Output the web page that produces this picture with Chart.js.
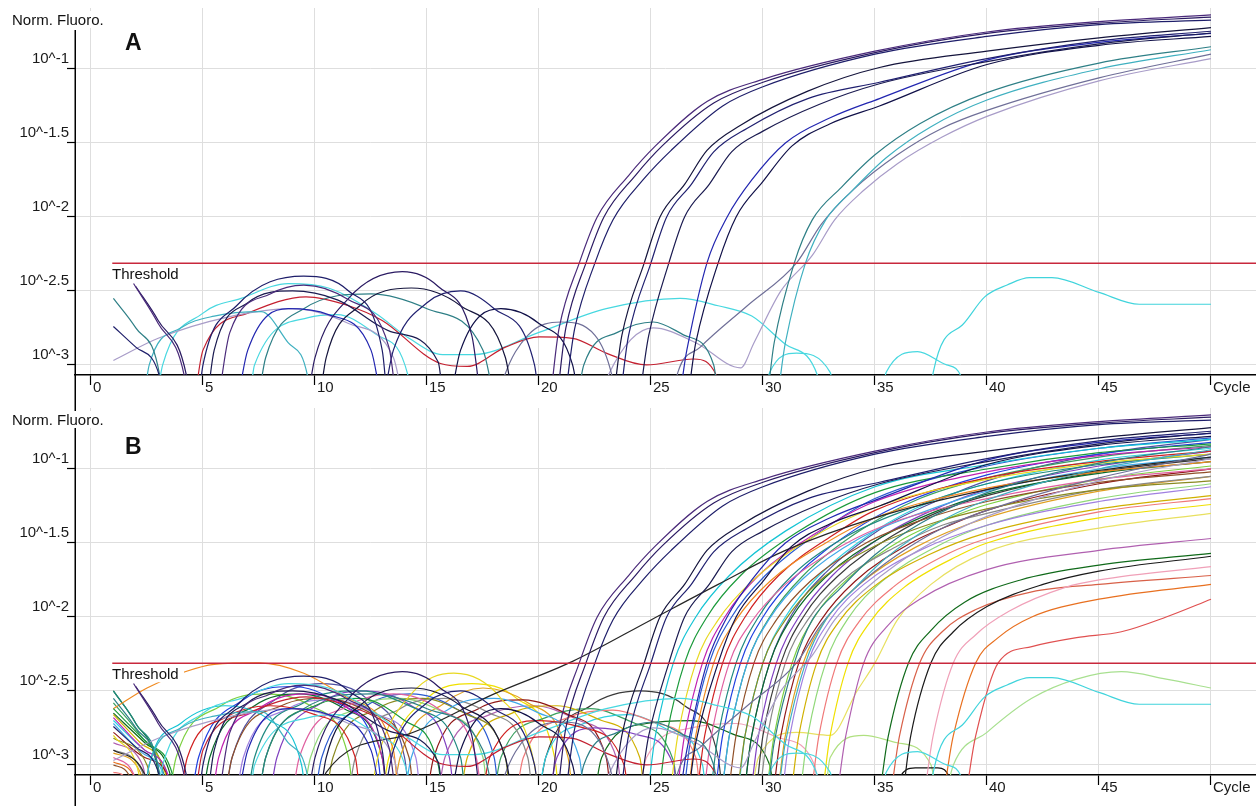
<!DOCTYPE html>
<html><head><meta charset="utf-8">
<script src="https://cdn.jsdelivr.net/npm/chart.js@4.4.1/dist/chart.umd.min.js"></script>
<style>
html,body{margin:0;padding:0;background:#fff;}
#wrap{position:relative;width:1256px;height:806px;overflow:hidden;background:#fff;}
canvas{position:absolute;left:0;}
</style></head><body>
<div id="wrap">
<canvas id="cA" width="1256" height="400" style="top:0px"></canvas>
<canvas id="cB" width="1256" height="406" style="top:400px"></canvas>
</div>
<script>
// ---- axis ticks ----
const xTicks = [0,5,10,15,20,25,30,35,40,45,50];
const xTickLabels = ['0','5','10','15','20','25','30','35','40','45','Cycle'];
const yTickExps = [-1,-1.5,-2,-2.5,-3];
const thresholdLog = -2.313;
const thresholdStartCycle = 0.95;

// ---- panel A curves: [cycle, log10(Norm. Fluoro.)] ----
const curvesA = [
 [[1.9,-2.45],[3,-2.72],[4.2,-3.1],[4.6,-3.6],[5.2,-3.6],[6.2,-2.78],[8,-2.52],[9.5,-2.46],[11.5,-2.56],[13.3,-2.88],[14,-3.6],[20.1,-3.6],[20.9,-2.75],[21.8,-2.31],[22.6,-2.0],[24,-1.72],[25.2,-1.52],[27.5,-1.22],[30,-1.07],[35,-0.88],[40,-0.75],[45,-0.68],[50,-0.635]],
 [[2,-2.47],[3,-2.7],[4.3,-3.1],[4.7,-3.6],[9.2,-3.6],[10,-2.95],[11.5,-2.55],[13.9,-2.37],[15.5,-2.47],[17,-2.8],[17.8,-3.6],[20.4,-3.6],[21.2,-2.75],[22.1,-2.31],[22.9,-2.0],[24.3,-1.72],[25.5,-1.52],[27.8,-1.23],[30,-1.09],[35,-0.89],[40,-0.76],[45,-0.69],[50,-0.65]],
 [[1,-2.74],[2,-2.88],[3.1,-3.1],[3.5,-3.6],[4.5,-3.6],[5,-3.0],[6.5,-2.6],[9.5,-2.4],[11.5,-2.5],[13,-2.9],[13.5,-3.6],[20.7,-3.6],[21.6,-2.75],[22.5,-2.31],[23.3,-2.02],[24.7,-1.74],[25.9,-1.55],[28.2,-1.25],[30,-1.12],[35,-0.9],[40,-0.78],[45,-0.7],[50,-0.67]],
 [[1,-3.6],[9.8,-3.6],[10.5,-2.95],[12,-2.6],[14.3,-2.48],[16.5,-2.6],[18.5,-2.95],[19.3,-3.6],[22.9,-3.6],[23.7,-2.8],[24.7,-2.31],[25.4,-2.0],[26.5,-1.78],[27.5,-1.55],[29,-1.38],[32,-1.15],[35.2,-0.99],[40,-0.88],[45,-0.79],[50,-0.72]],
 [[1,-3.6],[12.5,-3.6],[13.5,-2.9],[15,-2.58],[16.5,-2.5],[18,-2.62],[19.8,-3.0],[20.3,-3.6],[23.2,-3.6],[24,-2.8],[25,-2.31],[25.7,-2.0],[26.8,-1.78],[27.8,-1.56],[29.3,-1.4],[32,-1.2],[35.2,-1.09],[40,-0.93],[45,-0.81],[50,-0.745]],
 [[1,-3.6],[4.8,-3.6],[5.5,-2.9],[7,-2.58],[9,-2.5],[11,-2.56],[13.5,-2.78],[15.5,-2.98],[16,-3.6],[24,-3.6],[24.9,-2.8],[25.8,-2.31],[26.5,-2.0],[27.6,-1.78],[28.6,-1.56],[30,-1.42],[32.5,-1.24],[35.2,-1.1],[40,-0.95],[45,-0.83],[50,-0.757]],
 [[1,-3.6],[6,-3.6],[7,-2.9],[8.8,-2.62],[10.6,-2.66],[12.5,-2.9],[13.5,-3.6],[25.8,-3.6],[26.6,-2.9],[27.5,-2.31],[28.4,-2.0],[29.5,-1.75],[31,-1.5],[33,-1.33],[35.2,-1.2],[40,-0.94],[45,-0.82],[50,-0.76]],
 [[1,-3.6],[15.5,-3.6],[16.5,-2.9],[18.3,-2.62],[20,-2.72],[21.5,-3.0],[22.2,-3.6],[26.3,-3.5],[27,-2.85],[28,-2.31],[28.8,-2.0],[30,-1.76],[31.3,-1.52],[33,-1.37],[35.2,-1.25],[40,-0.97],[45,-0.84],[50,-0.78]],
 [[1,-2.55],[2,-2.75],[3.1,-3.1],[3.4,-3.6],[7,-3.6],[7.8,-2.95],[9.5,-2.62],[12.5,-2.52],[15,-2.62],[17.5,-2.9],[18.6,-3.6],[21.3,-3.6],[22,-3.0],[23.5,-2.78],[25.1,-2.71],[26.5,-2.8],[27.8,-3.0],[28.3,-3.6],[29.8,-3.6],[30.5,-2.85],[31.4,-2.31],[32.2,-2.02],[33.5,-1.8],[35,-1.58],[37,-1.37],[40,-1.16],[45,-0.96],[50,-0.85]],
 [[1,-3.6],[2,-3.6],[2.6,-3.0],[4,-2.75],[5.5,-2.67],[7.6,-2.64],[8.8,-2.85],[9.7,-3.1],[10,-3.6],[30.2,-3.6],[31,-2.85],[31.9,-2.31],[32.8,-2.02],[34,-1.82],[35.5,-1.6],[37.5,-1.39],[40,-1.21],[45,-1.0],[50,-0.87]],
 [[1,-3.6],[17.6,-3.6],[18.4,-3.1],[19.5,-2.8],[21,-2.71],[22.5,-2.8],[23.3,-3.1],[23.8,-3.6],[25.5,-3.6],[26.2,-3.05],[27.2,-2.88],[29.3,-2.6],[31.5,-2.31],[32.6,-2.05],[34,-1.82],[36,-1.58],[38,-1.4],[40,-1.28],[45,-1.06],[50,-0.9]],
 [[1,-2.97],[3,-2.82],[6,-2.68],[9,-2.62],[11.5,-2.72],[13.5,-2.95],[14.5,-3.6],[22,-3.6],[23,-3.1],[25.1,-2.75],[27,-2.85],[29,-3.02],[29.6,-2.85],[30.8,-2.5],[32.2,-2.26],[33.2,-2.02],[34.5,-1.82],[36,-1.64],[38,-1.46],[40,-1.32],[45,-1.08],[50,-0.93]],
 [[1,-3.6],[4.2,-3.6],[5,-2.9],[7,-2.65],[9.6,-2.54],[11.5,-2.6],[13,-2.7],[15.6,-2.99],[16.8,-3.01],[18.5,-2.88],[20,-2.81],[21.5,-2.82],[23,-2.92],[24.8,-3.0],[26.9,-2.96],[28,-3.1],[28.5,-3.6]],
 [[1,-3.6],[2.5,-3.6],[3.2,-3.0],[5,-2.65],[6.7,-2.55],[8.8,-2.45],[10.6,-2.48],[12.7,-2.65],[14.2,-2.82],[15.7,-2.93],[17.1,-2.93],[20,-2.78],[23,-2.62],[26.3,-2.55],[28,-2.6],[29.5,-2.67],[31,-2.86],[32.5,-3.1],[33,-3.6]],
 [[1,-3.6],[37.3,-3.6],[37.6,-3.05],[38.9,-2.73],[39.9,-2.54],[40.9,-2.46],[41.9,-2.41],[42.9,-2.41],[45,-2.51],[46.8,-2.59],[50,-2.59]],
 [[1,-3.6],[6.8,-3.6],[7.3,-3.0],[9.7,-2.68],[11,-2.66],[12.8,-2.8],[14.2,-3.1],[14.5,-3.6],[29.8,-3.6],[30.3,-3.05],[31.5,-2.92],[33,-3.05],[33.5,-3.6],[35,-3.6],[35.5,-3.05],[36.9,-2.91],[38.2,-3.0],[38.9,-3.1],[39.2,-3.6]]
];
const colorsA = ['#4a2a7a','#2a1a62','#1e1e6a','#14143c','#202070','#1a1a50','#2226b0','#101048','#2e7f86','#3fb0c0','#6f6f98','#a89cc8','#c42030','#48d8e0','#40d4dc','#48d8e0'];

// ---- extra curves that appear only in panel B ----
const curvesBExtra = [
 [[1,-2.9],[2.5,-3.1],[3,-3.6],[9.5,-3.6],[10.5,-3.05],[14,-2.8],[18,-2.52],[21.5,-2.3],[25,-2.02],[28,-1.78],[31,-1.55],[35,-1.33],[40,-1.14],[45,-1.01],[50,-0.92]],
 [[1,-3.6],[2,-3.6],[2.6,-3.0],[4,-2.72],[6,-2.6],[8,-2.7],[9.4,-3.0],[9.9,-3.6],[24.4,-3.6],[25.2,-2.8],[26,-2.31],[27,-2.0],[28.5,-1.72],[31,-1.42],[35,-1.12],[40,-0.97],[45,-0.86],[50,-0.8]],
 [[1,-2.62],[2.5,-2.85],[3.7,-3.1],[4.1,-3.6],[7,-3.6],[7.8,-2.95],[10,-2.6],[12,-2.55],[14,-2.7],[15.5,-3.0],[16,-3.6],[24.9,-3.6],[25.7,-2.8],[26.5,-2.31],[27.5,-2.0],[29,-1.72],[31.5,-1.43],[35,-1.16],[40,-1.0],[45,-0.89],[50,-0.83]],
 [[1,-2.8],[2.2,-3.1],[2.6,-3.6],[12,-3.6],[12.8,-2.95],[14.3,-2.52],[16.2,-2.38],[18.3,-2.55],[19.8,-3.0],[20.3,-3.6],[25.4,-3.6],[26.2,-2.8],[27,-2.31],[28,-2.02],[29.5,-1.76],[32,-1.48],[35,-1.26],[40,-1.07],[45,-0.96],[50,-0.9]],
 [[1,-2.68],[2.4,-2.9],[3.5,-3.1],[3.9,-3.6],[5,-3.6],[5.7,-2.95],[7.5,-2.62],[9.5,-2.52],[11.5,-2.62],[13,-2.95],[13.6,-3.6],[25.7,-3.6],[26.5,-2.8],[27.3,-2.31],[28.3,-2.0],[29.8,-1.72],[32.3,-1.44],[35,-1.22],[40,-1.02],[45,-0.91],[50,-0.85]],
 [[1,-2.62],[2.5,-2.48],[4.2,-2.37],[5.5,-2.32],[7.5,-2.31],[9.5,-2.38],[11.5,-2.55],[13.5,-2.9],[14,-3.6],[26.2,-3.6],[27,-2.8],[27.8,-2.31],[28.8,-2.02],[30.3,-1.76],[32.8,-1.5],[35,-1.33],[40,-1.13],[45,-1.02],[50,-0.95]],
 [[1,-3.6],[3.5,-3.6],[4.3,-2.95],[6,-2.68],[8,-2.6],[10,-2.66],[11.8,-2.95],[12.3,-3.6],[17,-3.6],[17.8,-2.95],[20,-2.7],[22,-2.75],[23.8,-3.0],[24.3,-3.6],[26.6,-3.6],[27.4,-2.8],[28.2,-2.31],[29.2,-2.0],[30.7,-1.72],[33.2,-1.44],[35,-1.28],[40,-1.06],[45,-0.95],[50,-0.88]],
 [[1,-2.95],[2,-3.1],[2.4,-3.6],[8.5,-3.6],[9.3,-2.95],[11.5,-2.6],[13.5,-2.52],[15.5,-2.62],[17.2,-2.95],[17.8,-3.6],[26.9,-3.6],[27.7,-2.8],[28.5,-2.31],[29.5,-2.03],[31,-1.78],[33.5,-1.52],[36,-1.35],[40,-1.2],[45,-1.07],[50,-1.0]],
 [[1,-2.5],[2,-2.72],[3.1,-3.1],[3.4,-3.6],[6.5,-3.6],[7.3,-2.95],[9.5,-2.58],[12,-2.5],[14.5,-2.62],[16.5,-2.95],[17,-3.6],[27.2,-3.6],[28,-2.8],[28.8,-2.31],[29.8,-2.0],[31.3,-1.72],[33.8,-1.45],[36,-1.3],[40,-1.1],[45,-0.97],[50,-0.9]],
 [[1,-3.6],[4,-3.6],[4.8,-2.95],[6.8,-2.56],[9,-2.47],[11,-2.58],[12.8,-2.95],[13.3,-3.6],[27.4,-3.6],[28.2,-2.8],[29,-2.31],[30,-2.0],[31.5,-1.72],[34,-1.42],[36,-1.25],[40,-1.04],[45,-0.9],[50,-0.82]],
 [[1,-2.72],[2.3,-2.92],[3.3,-3.1],[3.7,-3.6],[13.5,-3.6],[14.3,-2.95],[16,-2.62],[18,-2.55],[20,-2.65],[21.8,-2.95],[22.3,-3.6],[27.7,-3.6],[28.5,-2.8],[29.3,-2.31],[30.3,-2.01],[31.8,-1.74],[34.3,-1.47],[37,-1.3],[40,-1.15],[45,-1.0],[50,-0.92]],
 [[1,-3.0],[1.8,-3.1],[2.2,-3.6],[5.5,-3.6],[6.3,-2.95],[8.5,-2.6],[10.5,-2.55],[12.5,-2.65],[14.2,-2.95],[14.7,-3.6],[28,-3.6],[28.8,-2.8],[29.6,-2.31],[30.6,-2.02],[32.1,-1.76],[34.6,-1.5],[37,-1.35],[40,-1.22],[45,-1.09],[50,-1.02]],
 [[1,-2.82],[2.5,-3.0],[3.3,-3.6],[10,-3.6],[10.8,-2.95],[12.8,-2.62],[14.8,-2.55],[16.8,-2.66],[18.5,-2.95],[19,-3.6],[28.4,-3.6],[29.2,-2.8],[30,-2.31],[31,-2.02],[32.5,-1.76],[35,-1.52],[37.5,-1.37],[40,-1.27],[45,-1.14],[50,-1.08]],
 [[1,-2.5],[2,-2.72],[3,-3.05],[3.4,-3.6],[4.5,-3.6],[5.3,-2.95],[7.3,-2.6],[9.3,-2.52],[11.3,-2.62],[13,-2.95],[13.5,-3.6],[28.7,-3.6],[29.5,-2.8],[30.3,-2.31],[31.3,-2.0],[32.8,-1.73],[35.3,-1.46],[37.5,-1.3],[40,-1.17],[45,-1.03],[50,-0.95]],
 [[1,-3.6],[7.5,-3.6],[8.3,-2.95],[10.3,-2.58],[12.3,-2.5],[14.3,-2.6],[16,-2.95],[16.5,-3.6],[20,-3.6],[20.8,-2.95],[22.5,-2.75],[24.5,-2.8],[26,-3.0],[26.5,-3.6],[29,-3.6],[29.8,-2.8],[30.6,-2.31],[31.6,-2.0],[33.1,-1.72],[35.6,-1.43],[38,-1.25],[40,-1.14],[45,-0.98],[50,-0.88]],
 [[1,-2.9],[2.3,-3.05],[2.8,-3.6],[11,-3.6],[11.8,-2.95],[13.8,-2.62],[15.8,-2.55],[17.8,-2.65],[19.5,-2.95],[20,-3.6],[29.4,-3.6],[30.2,-2.8],[31,-2.31],[32,-2.02],[33.5,-1.76],[36,-1.52],[38,-1.38],[40,-1.3],[45,-1.14],[50,-1.05]],
 [[1,-3.6],[3,-3.6],[3.8,-2.95],[5.8,-2.6],[7.8,-2.52],[9.8,-2.6],[11.5,-2.95],[12,-3.6],[29.7,-3.6],[30.5,-2.8],[31.3,-2.31],[32.3,-2.0],[33.8,-1.74],[36.3,-1.47],[38.5,-1.32],[40,-1.24],[45,-1.07],[50,-0.98]],
 [[1,-2.78],[2.4,-2.95],[3.5,-3.1],[3.9,-3.6],[14.5,-3.6],[15.3,-2.95],[17.3,-2.62],[19.3,-2.56],[21.3,-2.66],[23,-2.95],[23.5,-3.6],[30,-3.6],[30.8,-2.8],[31.6,-2.31],[32.6,-2.02],[34.1,-1.76],[36.6,-1.5],[38.5,-1.37],[40,-1.28],[45,-1.1],[50,-1.0]],
 [[1,-3.6],[6,-3.6],[6.8,-2.95],[8.8,-2.62],[10.8,-2.56],[12.8,-2.66],[14.5,-2.95],[15,-3.6],[30.4,-3.6],[31.2,-2.8],[32,-2.31],[33,-2.02],[34.5,-1.78],[37,-1.55],[40,-1.38],[45,-1.22],[50,-1.12]],
 [[1,-2.66],[2.2,-2.85],[3.4,-3.1],[3.8,-3.6],[16,-3.6],[16.8,-2.95],[18.8,-2.65],[20.8,-2.6],[22.8,-2.7],[24.5,-2.95],[25,-3.6],[30.8,-3.6],[31.6,-2.8],[32.4,-2.31],[33.4,-2.03],[34.9,-1.8],[37.4,-1.58],[40,-1.43],[45,-1.27],[50,-1.18]],
 [[1,-3.6],[9,-3.6],[9.8,-2.95],[11.8,-2.62],[13.8,-2.55],[15.8,-2.65],[17.5,-2.95],[18,-3.6],[31.2,-3.6],[32,-2.8],[32.8,-2.31],[33.8,-2.01],[35.3,-1.76],[37.8,-1.52],[40,-1.38],[45,-1.2],[50,-1.1]],
 [[1,-3.05],[1.6,-3.1],[2,-3.6],[18.5,-3.6],[19.3,-2.95],[21.3,-2.68],[23.3,-2.63],[25.3,-2.72],[27,-2.95],[27.5,-3.6],[31.7,-3.6],[32.5,-2.8],[33.3,-2.31],[34.3,-2.03],[35.8,-1.8],[38.3,-1.57],[40,-1.47],[45,-1.29],[50,-1.2]],
 [[1,-2.7],[2.4,-2.9],[3.5,-3.1],[3.9,-3.6],[19.5,-3.6],[20.3,-2.95],[22,-2.72],[24,-2.66],[26,-2.78],[27.3,-3.0],[27.7,-3.6],[28.5,-3.6],[29.2,-2.8],[30,-2.31],[31,-2.0],[32.5,-1.72],[35,-1.42],[37.5,-1.22],[40,-1.1],[45,-0.94],[50,-0.86]],
 [[1,-3.6],[9.5,-3.6],[10.3,-2.95],[12.3,-2.6],[14.3,-2.52],[16.3,-2.62],[18,-2.95],[18.5,-3.6],[26,-3.6],[26.8,-2.8],[27.6,-2.31],[28.6,-2.0],[30.1,-1.72],[32.6,-1.42],[35,-1.2],[40,-0.98],[45,-0.86],[50,-0.79]],
 [[1,-2.58],[2.2,-2.8],[3.3,-3.1],[3.7,-3.6],[17.5,-3.6],[18.3,-2.95],[20.3,-2.68],[22.3,-2.62],[24.3,-2.72],[26,-2.97],[26.5,-3.6],[27.7,-3.6],[28.5,-2.8],[29.3,-2.31],[30.3,-2.0],[31.8,-1.72],[34.3,-1.42],[37,-1.2],[40,-1.06],[45,-0.92],[50,-0.84]],
 [[1,-3.6],[19.5,-3.6],[20.3,-2.95],[22.3,-2.6],[24.5,-2.5],[26.5,-2.6],[28,-2.95],[28.5,-3.6],[29.3,-3.6],[30,-2.8],[30.8,-2.31],[31.8,-2.0],[33.3,-1.73],[35.8,-1.45],[38,-1.28],[40,-1.18],[45,-1.02],[50,-0.93]],
 [[1,-2.92],[2.2,-3.05],[2.7,-3.6],[13,-3.6],[13.8,-2.95],[15.8,-2.58],[17.5,-2.48],[19.5,-2.58],[21.3,-2.95],[21.8,-3.6],[30.2,-3.6],[31,-2.8],[31.8,-2.31],[32.8,-2.02],[34.3,-1.78],[36.8,-1.53],[40,-1.33],[45,-1.15],[50,-1.05]],
 [[1,-3.6],[5.5,-3.6],[6.3,-2.95],[8.3,-2.55],[10.3,-2.45],[12.3,-2.55],[14,-2.95],[14.5,-3.6],[28.7,-3.6],[29.5,-2.8],[30.3,-2.31],[31.3,-1.98],[32.8,-1.7],[35.3,-1.4],[38,-1.2],[40,-1.08],[45,-0.9],[50,-0.8]],
 [[1,-3.6],[12.5,-3.6],[13.3,-2.95],[15,-2.55],[17,-2.45],[19,-2.55],[20.7,-2.95],[21.2,-3.6],[32.2,-3.6],[33,-2.8],[33.8,-2.31],[34.8,-2.03],[36.3,-1.8],[38.8,-1.58],[40,-1.5],[45,-1.33],[50,-1.24]],
 [[1,-2.85],[2.3,-3.0],[3,-3.6],[15,-3.6],[15.8,-2.95],[17.8,-2.66],[19.8,-2.6],[21.8,-2.7],[23.5,-2.97],[24,-3.6],[32.8,-3.6],[33.7,-2.8],[34.5,-2.31],[35.5,-2.07],[37,-1.88],[40,-1.68],[45,-1.55],[50,-1.47]],
 [[1,-2.65],[2.4,-2.85],[3.6,-3.1],[4,-3.6],[22,-3.6],[22.8,-2.95],[24.8,-2.72],[26.8,-2.7],[28.8,-2.8],[30.3,-3.0],[30.8,-3.6],[34.7,-3.6],[35.6,-2.8],[36.5,-2.31],[37.5,-2.09],[39,-1.9],[41.5,-1.75],[45,-1.65],[50,-1.57]],
 [[1,-3.6],[35.8,-3.6],[36.6,-2.8],[37.5,-2.31],[38.5,-2.1],[40,-1.93],[42.5,-1.78],[45,-1.69],[50,-1.59]],
 [[1,-3.6],[24,-3.6],[24.8,-2.95],[26.8,-2.75],[28.8,-2.72],[30.8,-2.82],[32.3,-3.0],[32.8,-3.6],[36.7,-3.6],[37.6,-2.8],[38.5,-2.31],[39.5,-2.12],[41,-1.96],[43.5,-1.8],[45,-1.75],[50,-1.66]],
 [[1,-2.98],[2,-3.1],[2.5,-3.6],[37.5,-3.6],[38.5,-2.8],[39.5,-2.31],[40.5,-2.14],[42,-2.0],[45,-1.88],[50,-1.78]],
 [[1,-3.6],[38.5,-3.6],[39.5,-2.8],[40.5,-2.31],[42,-2.2],[44,-2.14],[46,-2.1],[48,-2.0],[50,-1.88]],
 [[1,-3.6],[35.2,-3.6],[36.1,-2.8],[37,-2.31],[38,-2.1],[39.5,-1.95],[42,-1.83],[45,-1.78],[50,-1.72]],
 [[1,-3.6],[29,-3.6],[29.8,-2.95],[31.5,-2.78],[33,-2.8],[34.2,-2.5],[35,-2.31],[36,-2.02],[37.5,-1.78],[40,-1.56],[45,-1.4],[50,-1.3]],
 [[1,-3.6],[37.5,-3.6],[38.5,-3.0],[40,-2.78],[42,-2.55],[44,-2.42],[46,-2.37],[48,-2.42],[50,-2.48]],
 [[1,-3.6],[35.7,-3.6],[36,-3.12],[36.8,-3.02],[37.8,-3.02],[38.4,-3.12],[38.6,-3.6],[50,-3.6]],
 [[1,-3.6],[32.5,-3.6],[33,-2.95],[34.5,-2.8],[36,-2.85],[37.5,-3.0],[38,-3.6]]
];
const colorsBExtra = ['#262626','#14c4d4','#1a9a3a','#e8d820','#c020b0','#f08a20','#d02020','#e060a0','#208a80','#2040e0',
 '#40a8e8','#905028','#8a8a20','#0a6a2a','#8040c0','#888888','#7cd040','#901818','#a080e0','#d0b000',
 '#90d878','#f07878','#30d0e0','#2a5ad0','#3aa060','#3a3a3a','#e0a020','#5050a0','#f0e000','#b060b0',
 '#106a1a','#1a1a1a','#f0a0b8','#e87020','#e05050','#d86048','#e8e060','#a8e090','#111111','#b0e080'];

const FONT = '"Liberation Sans", Arial, Helvetica, sans-serif';
const X_MIN = -0.714, X_MAX = 52.01, Y_MIN_EXP = -3.068, Y_MAX_EXP = -0.588;

function toPoints(c){ return c.map(p => ({x:p[0], y:Math.pow(10, p[1])})); }

function build(canvasId, curves, colors, letter, axisH, axisTop, letterY) {
  const datasets = [{
    label:'Threshold',
    data:[{x:thresholdStartCycle,y:Math.pow(10,thresholdLog)},{x:X_MAX,y:Math.pow(10,thresholdLog)}],
    borderColor:'#c8283c', borderWidth:1.6, pointRadius:0, tension:0, fill:false
  }];
  curves.forEach((c,i) => datasets.push({
    label:'s'+i, data:toPoints(c), borderColor:colors[i], borderWidth:1.2,
    pointRadius:0, cubicInterpolationMode:'monotone', fill:false
  }));
  const overlay = {
    id:'overlay'+canvasId,
    afterDraw(chart){
      const ctx = chart.ctx;
      ctx.save();
      ctx.strokeStyle = '#000'; ctx.lineWidth = 1.5;
      ctx.beginPath(); ctx.moveTo(75.25, axisTop); ctx.lineTo(75.25, chart.height); ctx.stroke();
      ctx.font = '15px ' + FONT;
      ctx.textBaseline = 'alphabetic'; ctx.textAlign = 'left';
      ctx.fillStyle = '#fff'; ctx.fillRect(10, 11, 98, 17);
      ctx.fillStyle = '#111'; ctx.fillText('Norm. Fluoro.', 12, 25);
      const yT = chart.scales.y.getPixelForValue(Math.pow(10, thresholdLog));
      ctx.fillStyle = '#fff'; ctx.fillRect(110, yT + 2, 74, 17);
      ctx.fillStyle = '#111'; ctx.fillText('Threshold', 112, yT + 15.5);
      ctx.font = 'bold 23px ' + FONT;
      ctx.fillText(letter, 125, letterY);
      ctx.restore();
    }
  };
  return new Chart(document.getElementById(canvasId), {
    type:'line',
    data:{datasets},
    options:{
      responsive:false, animation:false, devicePixelRatio:1, events:[],
      layout:{padding:{top:8,left:0,right:0,bottom:0}},
      plugins:{legend:{display:false}, tooltip:{enabled:false}},
      scales:{
        x:{
          type:'linear', min:X_MIN, max:X_MAX,
          afterBuildTicks: s => { s.ticks = xTicks.map(v => ({value:v})); },
          afterFit: s => { s.height = axisH; s.paddingLeft = 0; s.paddingRight = 0; },
          ticks:{ autoSkip:false, maxRotation:0, minRotation:0, align:'start', labelOffset:2, padding:-6,
                  color:'#1a1a1a', font:{family:FONT, size:15},
                  callback: v => xTickLabels[xTicks.indexOf(v)] },
          grid:{ color:'#dedede', lineWidth:1, tickColor:'#000', tickLength:10, tickWidth:1.2 },
          border:{ color:'#000', width:1.5 }
        },
        y:{
          type:'logarithmic', min:Math.pow(10,Y_MIN_EXP), max:Math.pow(10,Y_MAX_EXP),
          afterBuildTicks: s => { s.ticks = yTickExps.map(e => ({value:Math.pow(10,e)})); },
          afterFit: s => { s.width = 75; s.paddingTop = 0; s.paddingBottom = 0; },
          ticks:{ autoSkip:false, labelOffset:-10, padding:-2, color:'#1a1a1a', font:{family:FONT, size:15},
                  callback: v => '10^' + (Math.round(Math.log10(v)*10)/10) },
          grid:{ color:'#dedede', lineWidth:1, tickColor:'#000', tickLength:8, tickWidth:1.2 },
          border:{ display:false }
        }
      }
    },
    plugins:[overlay]
  });
}

build('cA', curvesA, colorsA, 'A', 25, 30, 50);
build('cB', curvesA.concat(curvesBExtra), colorsA.concat(colorsBExtra), 'B', 31, 0, 54);
</script>
</body></html>
